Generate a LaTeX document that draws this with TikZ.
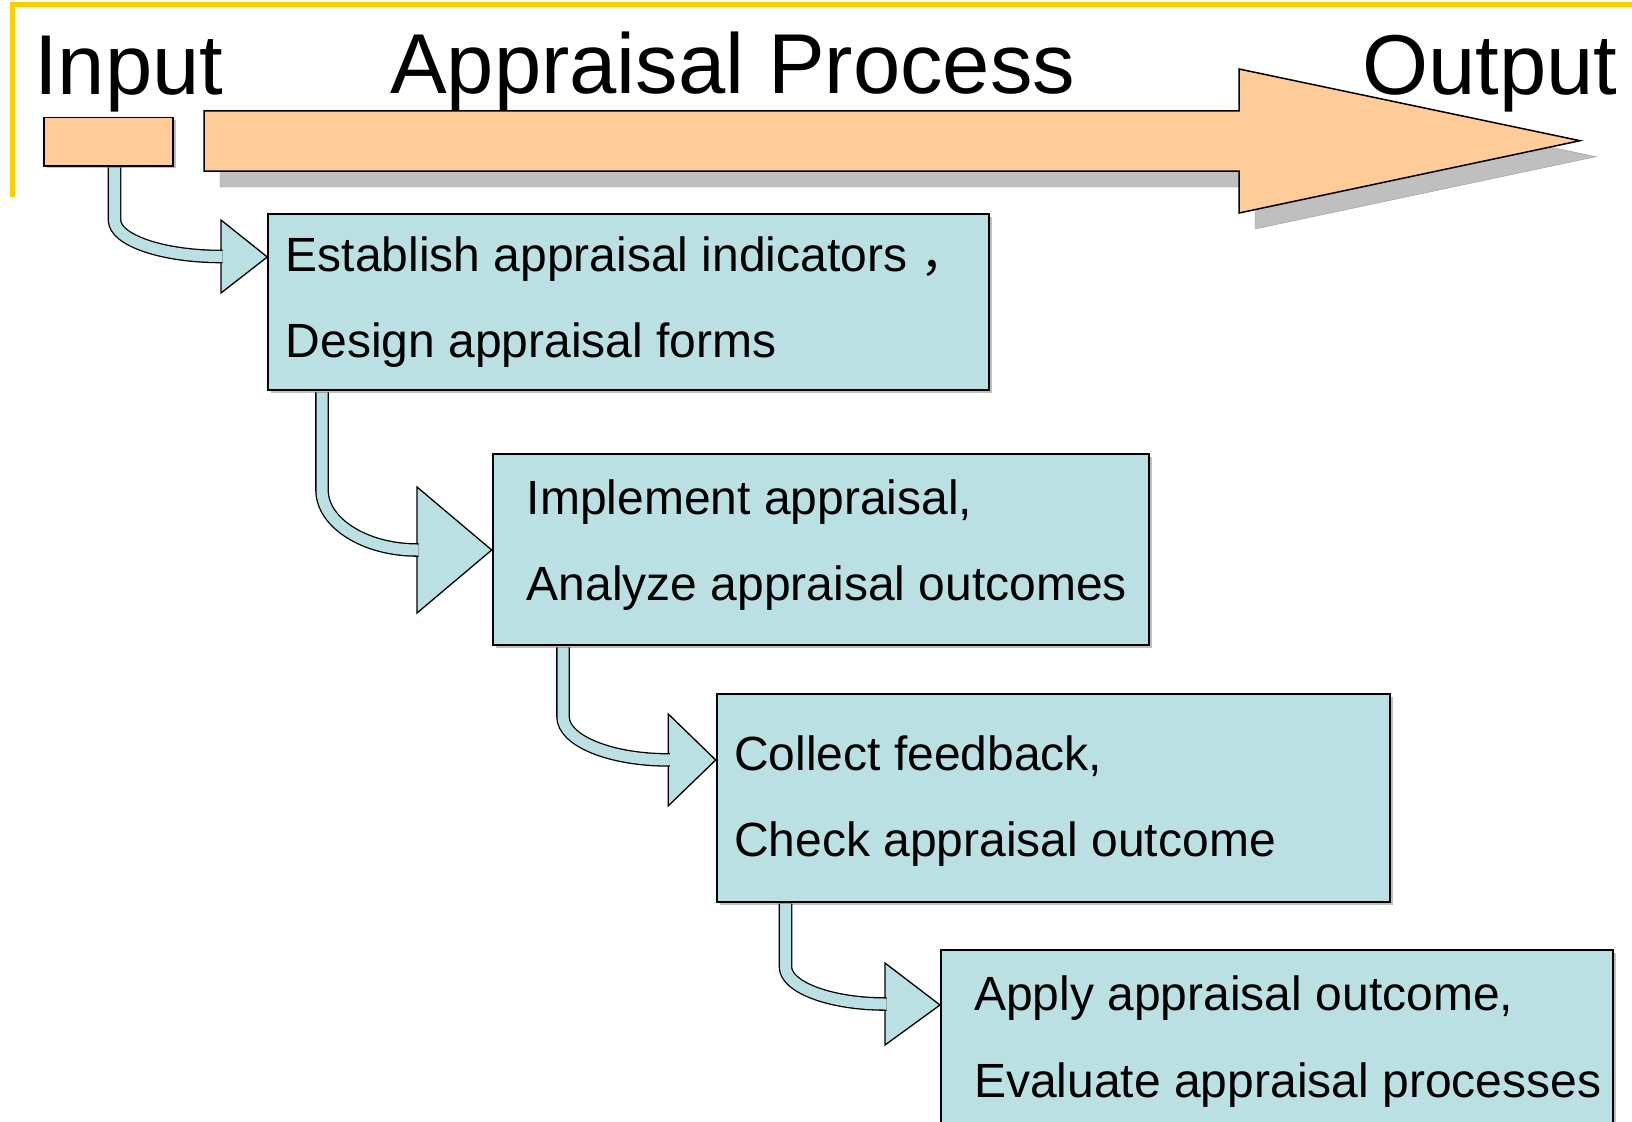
\documentclass[tikz,border=0pt]{standalone}
\usepackage{fontspec}
\setmainfont{Liberation Sans}
\newfontfamily\cjkfont{Noto Sans CJK SC}
\usetikzlibrary{shadows}
\definecolor{peach}{HTML}{FFCC99}
\definecolor{paleblue}{HTML}{BBE0E3}
\definecolor{frameyellow}{HTML}{FFCC00}
\definecolor{shade}{HTML}{BFBFBF}
\tikzset{
  title/.style={anchor=base west,inner sep=0pt,font=\fontsize{85}{85}\selectfont},
  steptext/.style={anchor=base west,inner sep=0pt,font=\fontsize{48}{48}\selectfont},
  procbox/.style={draw=black,line width=2pt,fill=paleblue,inner sep=0pt,anchor=north west,
    drop shadow={shadow xshift=3pt,shadow yshift=-3pt,fill=shade,opacity=1}},
  link/.style={line width=1.3pt,draw=black,double=paleblue,double distance=11pt},
  linkhead/.style={draw=black,line width=1.3pt,fill=paleblue,line join=miter},
}
\begin{document}
\begin{tikzpicture}[x=1pt,y=-1pt]
\useasboundingbox (0,0) rectangle (1632,1121);
\clip (0,0) rectangle (1632,1121);
% frame
\draw[frameyellow,line width=5pt] (12.5,197) -- (12.5,5) -- (1632,5);
% titles
\node[title] (tin) at (34,95) {Input};
\node[title] (tproc) at (390,94) {Appraisal Process};
\node[title] (tout) at (1362,95) {Output};
% input box and process arrow
\node[draw=black,line width=1.5pt,fill=peach,inner sep=0pt,anchor=north west,
  minimum width=129pt,minimum height=48.3pt,
  drop shadow={shadow xshift=2.7pt,shadow yshift=-2.7pt,fill=shade,opacity=1}] (in) at (43.3,116.7) {};
\filldraw[draw=black,line width=1.5pt,fill=peach,line join=miter,
  drop shadow={shadow xshift=16pt,shadow yshift=-16pt,fill=shade,draw=gray!80,opacity=1}]
  (204,111) -- (1239,111) -- (1239,69) -- (1580,140.7) -- (1239,213) -- (1239,171) -- (204,171) -- cycle;
% steps
\node[procbox,minimum width=721pt,minimum height=176.6pt] (b1) at (267.3,212.7) {};
\node[procbox,minimum width=656.3pt,minimum height=191.6pt] (b2) at (491.7,452.7) {};
\node[procbox,minimum width=672.8pt,minimum height=208pt] (b3) at (715.7,692.7) {};
\node[procbox,minimum width=671.7pt,minimum height=220pt] (b4) at (940,949) {};
\node[steptext] (e1) at (285.5,271) {Establish appraisal indicators {\cjkfont ，}};
\node[steptext] (e2) at (285.5,357.3) {Design appraisal forms};
\node[steptext] (i1) at (526.5,514) {Implement appraisal,};
\node[steptext] (i2) at (526.5,600.7) {Analyze appraisal outcomes};
\node[steptext] (c1) at (734,770) {Collect feedback,};
\node[steptext] (c2) at (734,856.7) {Check appraisal outcome};
\node[steptext] (a1) at (974,1010) {Apply appraisal outcome,};
\node[steptext] (a2) at (974,1097) {Evaluate appraisal processes};
% connectors
\coordinate (h1) at (221,256.5);
\coordinate (h2) at (417,550);
\coordinate (h3) at (668.3,759.9);
\coordinate (h4) at (885,1004);
\filldraw[linkhead] ([yshift=36.5pt]h1) -- (b1.west |- 0,257) -- ([yshift=-36.5pt]h1) -- cycle;
\filldraw[linkhead] ([yshift=63pt]h2) -- (b2.west |- 0,550) -- ([yshift=-63pt]h2) -- cycle;
\filldraw[linkhead] ([yshift=45.9pt]h3) -- (b3.west |- 0,760) -- ([yshift=-45.9pt]h3) -- cycle;
\filldraw[linkhead] ([yshift=41pt]h4) -- (b4.west |- 0,1005) -- ([yshift=-41pt]h4) -- cycle;
\draw[link] ([xshift=71.2pt,yshift=-0.8pt]in.south west) -- (114.5,220) .. controls +(0,20) and +(-59,0) .. (h1) -- ++(1.5,0);
\draw[link] ([xshift=54.7pt,yshift=-1pt]b1.south west) -- (322,490) .. controls +(0,33) and +(-52,0) .. (h2) -- ++(1.5,0);
\draw[link] ([xshift=71.3pt,yshift=-1pt]b2.south west) -- (563,716.7) .. controls +(0,24) and +(-58,0) .. (h3) -- ++(1.5,0);
\draw[link] ([xshift=69.8pt,yshift=-1pt]b3.south west) -- (785.5,967) .. controls +(0,20) and +(-55,0) .. (h4) -- ++(1.5,0);
\end{tikzpicture}
\end{document}
